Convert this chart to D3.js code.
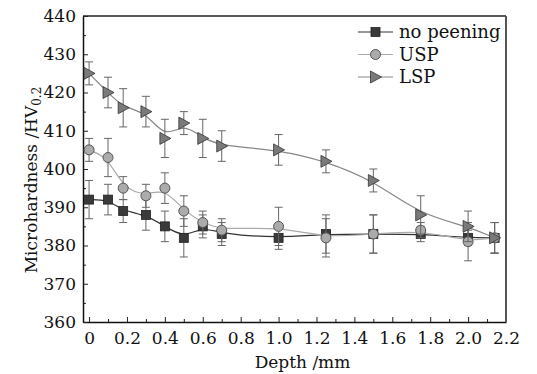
<!DOCTYPE html>
<html>
<head>
<meta charset="utf-8">
<script src="https://cdn.jsdelivr.net/npm/d3@7"></script>
<style>
  body { margin: 0; background: #fff; }
  text { font-family: "DejaVu Serif", serif; fill: #111; }
</style>
</head>
<body>
<div class="holder"></div>
<script>
const w = 537;
const h = 374;

// chart values
const depth = [0, 0.1, 0.18, 0.3, 0.4, 0.5, 0.6, 0.7, 1.0, 1.25, 1.5, 1.75, 2.0, 2.14];
const noPeening = [392, 392, 389, 388, 385, 382, 385, 383, 382, 383, 383, 383, 382, 382];
const noPeeningErr = [5, 4, 3, 4, 4, 5, 3, 3, 3, 5, 5, 2, 2, 4];
const usp = [405, 403, 395, 393, 395, 389, 386, 384, 385, 382, 383, 384, 381, 382];
const uspErr = [3, 5, 3, 3, 4, 4, 3, 3, 5, 5, 5, 2, 5, 4];
const lsp = [425, 420, 416, 415, 408, 412, 408, 406, 405, 402, 397, 388, 385, 382];
const lspErr = [3, 4, 5, 4, 5, 3, 5, 4, 4, 3, 3, 5, 4, 4];
const seriesNames = ['no peening', 'USP', 'LSP'];
const xTicks = [0, 0.2, 0.4, 0.6, 0.8, 1.0, 1.2, 1.4, 1.6, 1.8, 2.0, 2.2];
const yTicks = [360, 370, 380, 390, 400, 410, 420, 430, 440];

const pLeft = 83, pRight = 506, pTop = 16, pBottom = 322;

const svg = d3.select('.holder')
  .append('svg')
  .attr('width', w)
  .attr('height', h);

const xScale = d3.scaleLinear().domain([-0.032, 2.2]).range([pLeft, pRight]);
const yScale = d3.scaleLinear().domain([360, 440]).range([pBottom, pTop]);

// minor ticks
const xMinor = d3.range(0, 2.25, 0.1).filter(d => Math.round(d * 10) % 2 === 1);
const yMinor = d3.range(365, 440, 10);

svg.append('g')
  .attr('transform', 'translate(0,' + pBottom + ')')
  .call(d3.axisBottom(xScale).tickValues(xMinor).tickSize(-3).tickSizeOuter(0).tickFormat(''))
  .call(g => g.select('.domain').remove());
svg.append('g')
  .attr('transform', 'translate(' + pLeft + ',0)')
  .call(d3.axisLeft(yScale).tickValues(yMinor).tickSize(-3).tickSizeOuter(0).tickFormat(''))
  .call(g => g.select('.domain').remove());

const xAxis = svg.append('g')
  .attr('transform', 'translate(0,' + pBottom + ')')
  .call(d3.axisBottom(xScale)
    .tickValues(xTicks)
    .tickSize(-5)
    .tickSizeOuter(0)
    .tickPadding(10)
    .tickFormat(d => d === 0 ? '0' : d.toFixed(1)));
xAxis.selectAll('text').style('font-size', '17px').attr('fill', '#111');

const yAxis = svg.append('g')
  .attr('transform', 'translate(' + pLeft + ',0)')
  .call(d3.axisLeft(yScale)
    .tickValues(yTicks)
    .tickSize(-5)
    .tickSizeOuter(0)
    .tickPadding(7));
yAxis.selectAll('text').style('font-size', '17px').attr('fill', '#111');

svg.selectAll('.domain').attr('stroke', '#111').attr('stroke-width', 1.5);
svg.selectAll('.tick line').attr('stroke', '#222');

// top and right border
svg.append('line')
  .attr('x1', pLeft).attr('x2', pRight)
  .attr('y1', pTop).attr('y2', pTop)
  .attr('stroke', '#222').attr('stroke-width', 1.5);
svg.append('line')
  .attr('x1', pRight).attr('x2', pRight)
  .attr('y1', pTop).attr('y2', pBottom)
  .attr('stroke', '#555').attr('stroke-width', 2);

// axis titles
svg.append('text')
  .attr('x', (pLeft + pRight) / 2 + 8)
  .attr('y', 368)
  .attr('text-anchor', 'middle')
  .style('font-size', '17px')
  .text('Depth /mm');

const yTitle = svg.append('text')
  .attr('transform', 'translate(37,180) rotate(-90)')
  .attr('text-anchor', 'middle')
  .style('font-size', '17px');
yTitle.append('tspan').text('Microhardness /HV');
yTitle.append('tspan').attr('dy', 4).style('font-size', '12px').text('0.2');

const series = [
  { name: seriesNames[0], vals: noPeening, err: noPeeningErr, shape: 'square', fill: '#3a3a3a', stroke: '#222', line: '#333' },
  { name: seriesNames[1], vals: usp, err: uspErr, shape: 'circle', fill: '#ababab', stroke: '#555', line: '#aaa' },
  { name: seriesNames[2], vals: lsp, err: lspErr, shape: 'triangle', fill: '#7a7a7a', stroke: '#333', line: '#888' }
];

const lineGen = d3.line()
  .x((d, i) => xScale(depth[i]))
  .y(d => yScale(d))
  .curve(d3.curveBasis);

function drawMarker(g, shape, cx, cy, fill, stroke) {
  if (shape === 'square') {
    g.append('rect')
      .attr('x', cx - 4.5).attr('y', cy - 4.5)
      .attr('width', 9).attr('height', 9)
      .attr('fill', fill).attr('stroke', stroke).attr('stroke-width', 0.8);
  } else if (shape === 'circle') {
    g.append('circle')
      .attr('cx', cx).attr('cy', cy).attr('r', 5)
      .attr('fill', fill).attr('stroke', stroke).attr('stroke-width', 1);
  } else {
    g.append('path')
      .attr('d', 'M' + (cx - 5) + ',' + (cy - 6) + 'L' + (cx + 6) + ',' + cy + 'L' + (cx - 5) + ',' + (cy + 6) + 'Z')
      .attr('fill', fill).attr('stroke', stroke).attr('stroke-width', 0.8);
  }
}

series.forEach(function (s) {
  const g = svg.append('g');
  g.append('path')
    .attr('d', lineGen(s.vals))
    .attr('fill', 'none')
    .attr('stroke', s.line)
    .attr('stroke-width', 1.2);

  s.vals.forEach(function (v, i) {
    const x = xScale(depth[i]);
    const y1 = yScale(v + s.err[i]);
    const y2 = yScale(v - s.err[i]);
    g.append('line').attr('x1', x).attr('x2', x).attr('y1', y1).attr('y2', y2)
      .attr('stroke', '#666').attr('stroke-width', 1);
    g.append('line').attr('x1', x - 4).attr('x2', x + 4).attr('y1', y1).attr('y2', y1)
      .attr('stroke', '#666').attr('stroke-width', 1);
    g.append('line').attr('x1', x - 4).attr('x2', x + 4).attr('y1', y2).attr('y2', y2)
      .attr('stroke', '#666').attr('stroke-width', 1);
  });
  s.vals.forEach(function (v, i) {
    drawMarker(g, s.shape, xScale(depth[i]), yScale(v), s.fill, s.stroke);
  });
});

// legend
const legend = svg.append('g');
series.forEach(function (s, i) {
  const cy = 32 + i * 22.5;
  legend.append('line')
    .attr('x1', 358).attr('x2', 393).attr('y1', cy).attr('y2', cy)
    .attr('stroke', s.line).attr('stroke-width', 1.2);
  drawMarker(legend, s.shape, 375.5, cy, s.fill, s.stroke);
  legend.append('text')
    .attr('x', 399)
    .attr('y', cy + 6)
    .style('font-size', '18px')
    .text(s.name);
});
</script>
</body>
</html>
